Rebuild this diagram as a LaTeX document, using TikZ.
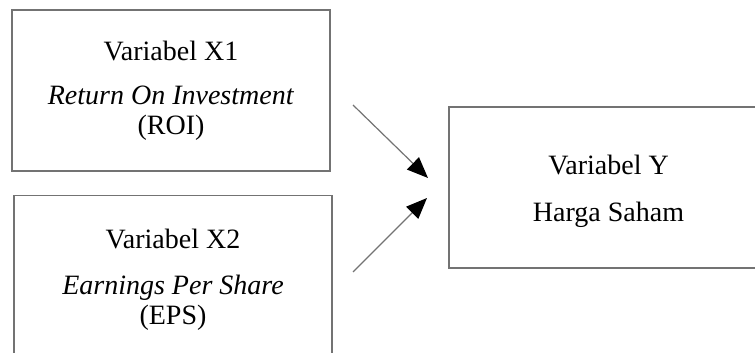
\documentclass[tikz,border=0pt]{standalone}
\usepackage{fontspec}
\setmainfont{Liberation Serif}
\usetikzlibrary{arrows.meta}

\begin{document}
\begin{tikzpicture}[
    x=1pt, y=-1pt,
    varbox/.style={draw=black!55, line width=1.2pt, align=center, font=\fontsize{28}{30}\selectfont},
    square/.style={varbox, minimum width=318pt, minimum height=161pt},
    link/.style={black!55, line width=1.2pt, -{Triangle[length=21pt, width=17pt, color=black]}}
]
    \useasboundingbox (0,0) rectangle (755,353);
    \clip (0,0) rectangle (755,353);

    \node[square] (x1) at (171,90.5) {Variabel X1\\[14pt] \textit{Return On Investment}\\ (ROI)};
    \node[varbox, minimum width=318pt, inner ysep=33pt, text depth=24pt, anchor=north] (x2) at (173,195)
        {Variabel X2\\[16pt] \textit{Earnings Per Share}\\ (EPS)};
    \node[square, minimum width=319pt, text height=75pt] (y) at (608.5,187.5) {Variabel Y\\[17pt] Harga Saham};

    % free ends of the two arrows
    \coordinate (roi start) at (353,105);
    \coordinate (roi end) at (428,178);
    \coordinate (eps start) at (353,272);
    \coordinate (eps end) at (427,198);

    \draw[link] (roi start) -- (roi end);
    \draw[link] (eps start) -- (eps end);

\end{tikzpicture}
\end{document}
